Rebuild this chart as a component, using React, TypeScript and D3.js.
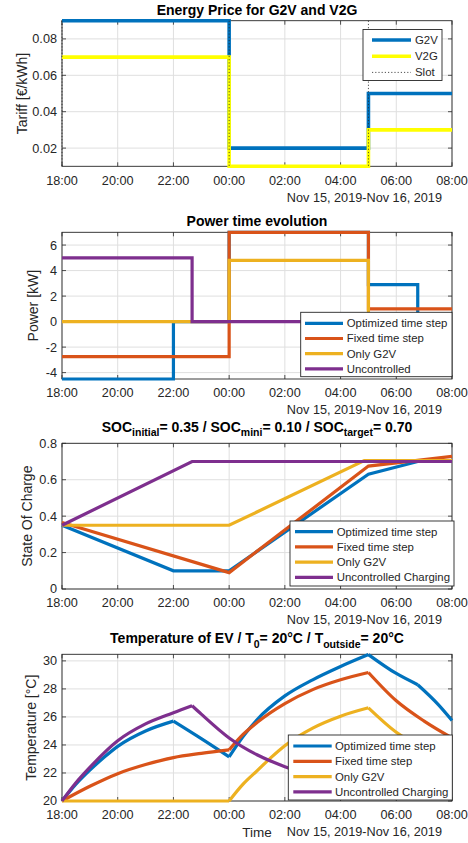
import React from "react";
import * as d3 from "d3";

// shared time axis (hours after 18:00 on Nov 15)
const xTicks = [0, 2, 4, 6, 8, 10, 12, 14];
const xTickLabels = ["18:00", "20:00", "22:00", "00:00", "02:00", "04:00", "06:00", "08:00"];
const dateLabel = "Nov 15, 2019-Nov 16, 2019";

// energy price
const tariffHours = [0, 6, 11, 14];
const g2vTariff = [0.09, 0.02, 0.05, 0.05];
const v2gTariff = [0.07, 0.01, 0.03, 0.03];
const slotHours = [0, 6, 11];
const tariffTicks = [0.02, 0.04, 0.06, 0.08];

// power [kW], step-after
const optPowerHours = [0, 4, 6, 11, 12.77, 14];
const optPower = [-4.5, 0, 7, 2.9, 0, 0];
const fixPowerHours = [0, 6, 11, 14];
const fixPower = [-2.75, 7, 1, 1];
const g2vPowerHours = [0, 6, 11, 14];
const g2vPower = [0, 4.8, 0, 0];
const uncPowerHours = [0, 4.67, 14];
const uncPower = [5, 0, 0];
const powerTicks = [-4, -2, 0, 2, 4, 6];

// state of charge
const optSocHours = [0, 4, 6, 11, 12.77, 14];
const optSoc = [0.35, 0.1, 0.1, 0.63, 0.7, 0.7];
const fixSocHours = [0, 6, 11, 14];
const fixSoc = [0.365, 0.09, 0.675, 0.728];
const g2vSocHours = [0, 6, 10.85, 14];
const g2vSoc = [0.35, 0.35, 0.705, 0.705];
const uncSocHours = [0, 4.67, 14];
const uncSoc = [0.35, 0.7, 0.7];
const socTicks = [0, 0.2, 0.4, 0.6, 0.8];

// temperature [°C], one sub-array per smooth segment
const optTempHours = [[0, 0.5, 1, 1.5, 2, 3, 4], [4, 5, 6], [6, 6.5, 7, 8, 9, 10, 11], [11, 12, 12.77], [12.77, 13.5, 14]];
const optTemp = [[20, 21.2, 22.2, 23.1, 23.9, 25.0, 25.7], [25.7, 24.45, 23.15], [23.15, 24.6, 25.8, 27.5, 28.65, 29.6, 30.45], [30.45, 29.1, 28.3], [28.3, 26.9, 25.75]];
const fixTempHours = [[0, 1, 2, 3, 4, 5, 6], [6, 6.5, 7, 8, 9, 10, 11], [11, 12, 13, 14]];
const fixTemp = [[20, 21.05, 21.95, 22.6, 23.1, 23.4, 23.65], [23.65, 24.75, 25.6, 26.95, 27.95, 28.65, 29.17], [29.17, 27.15, 25.7, 24.5]];
const g2vTempHours = [[0, 6], [6, 6.5, 7, 7.5, 8, 9, 10, 11], [11, 12, 13, 14]];
const g2vTemp = [[20, 20], [20, 21.2, 22.15, 23.1, 23.95, 25.2, 26.05, 26.65], [26.65, 24.9, 23.65, 22.8]];
const uncTempHours = [[0, 0.5, 1, 2, 3, 4, 4.67], [4.67, 5, 6, 7, 8, 9, 10, 11, 12, 13, 14]];
const uncTemp = [[20, 21.3, 22.4, 24.3, 25.5, 26.3, 26.8], [26.8, 26.2, 24.5, 23.3, 22.45, 21.8, 21.35, 21.0, 20.75, 20.55, 20.4]];
const tempTicks = [20, 22, 24, 26, 28, 30];

const BLUE = "#0072BD";
const ORANGE = "#D95319";
const GOLD = "#EDB120";
const PURPLE = "#7E2F8E";
const AXIS = "#262626";
const GRID = "#dfdfdf";
const FONT = "'Liberation Sans', Arial, Helvetica, sans-serif";

const X0 = 62;
const X1 = 452;

type Curve = "step" | "linear" | "smooth";

type Series = {
  name: string;
  color: string;
  width: number;
  dash?: string;
  curve?: Curve;
  segments: [number, number][][];
};

type Legend = { x: number; y: number; w: number; h: number; row0: number; dy: number; l1: number; l2: number; tx: number; items: Series[] };

type TitlePart = { t: string; sub?: boolean };

const seg = (h: number[], v: number[]) => [d3.zip(h, v) as [number, number][]];
const segs = (h: number[][], v: number[][]) => h.map((hh, i) => d3.zip(hh, v[i]) as [number, number][]);

const curves = { step: d3.curveStepAfter, linear: d3.curveLinear, smooth: d3.curveMonotoneX };

function TitleText({ parts }: { parts: TitlePart[] }) {
  // subscripts shift down, the following normal part shifts back up
  let shifted = false;
  return (
    <>
      {parts.map((p, i) => {
        let dy = 0;
        if (p.sub && !shifted) {
          dy = 4.5;
          shifted = true;
        } else if (!p.sub && shifted) {
          dy = -4.5;
          shifted = false;
        }
        return (
          <tspan key={i} dy={dy} fontSize={p.sub ? 10.5 : 14}>
            {p.t}
          </tspan>
        );
      })}
    </>
  );
}

function Panel(props: {
  top: number;
  bottom: number;
  yDomain: [number, number];
  yTicks: number[];
  yFmt: (v: number) => string;
  title: TitlePart[];
  titleY: number;
  yLabel: string;
  yLabelX: number;
  series: Series[];
  vlines?: number[];
  legend: Legend;
  xLabel?: string;
}) {
  const { top, bottom, yDomain, yTicks, yFmt, title, titleY, yLabel, yLabelX, series, vlines, legend, xLabel } = props;
  const x = d3.scaleLinear().domain([0, 14]).range([X0, X1]);
  const y = d3.scaleLinear().domain(yDomain).range([bottom, top]);
  const tl = 4;

  return (
    <g>
      <rect x={X0} y={top} width={X1 - X0} height={bottom - top} fill="#fff" />
      {xTicks.map((t) => (
        <line key={"gx" + t} x1={x(t)} x2={x(t)} y1={top} y2={bottom} stroke={GRID} strokeWidth={1} />
      ))}
      {yTicks.map((v) => (
        <line key={"gy" + v} x1={X0} x2={X1} y1={y(v)} y2={y(v)} stroke={GRID} strokeWidth={1} />
      ))}
      <rect x={X0} y={top} width={X1 - X0} height={bottom - top} fill="none" stroke={AXIS} strokeWidth={0.9} />
      {xTicks.map((t) => (
        <g key={"tx" + t}>
          <line x1={x(t)} x2={x(t)} y1={bottom} y2={bottom - tl} stroke={AXIS} strokeWidth={0.8} />
          <line x1={x(t)} x2={x(t)} y1={top} y2={top + tl} stroke={AXIS} strokeWidth={0.8} />
        </g>
      ))}
      {yTicks.map((v) => (
        <g key={"ty" + v}>
          <line x1={X0} x2={X0 + tl} y1={y(v)} y2={y(v)} stroke={AXIS} strokeWidth={0.8} />
          <line x1={X1} x2={X1 - tl} y1={y(v)} y2={y(v)} stroke={AXIS} strokeWidth={0.8} />
        </g>
      ))}
      {series.map((s) => {
        const gen = d3
          .line<[number, number]>()
          .x((d) => x(d[0]))
          .y((d) => y(d[1]))
          .curve(curves[s.curve || "linear"]);
        return s.segments.map((pts, i) => (
          <path key={s.name + i} d={gen(pts) || ""} fill="none" stroke={s.color} strokeWidth={s.width} strokeDasharray={s.dash} strokeLinejoin="miter" />
        ));
      })}
      {(vlines || []).map((h) => (
        <line key={"v" + h} x1={x(h)} x2={x(h)} y1={top} y2={bottom} stroke={AXIS} strokeWidth={0.8} strokeDasharray="1.2,2" />
      ))}
      {xTicks.map((t, i) => (
        <text key={"lx" + t} x={x(t)} y={bottom + 14} dy="0.35em" textAnchor="middle" fontSize={12.7} fill={AXIS}>
          {xTickLabels[i]}
        </text>
      ))}
      {yTicks.map((v) => (
        <text key={"ly" + v} x={X0 - 5} y={y(v)} dy="0.35em" textAnchor="end" fontSize={12.7} fill={AXIS}>
          {yFmt(v)}
        </text>
      ))}
      <text x={442} y={bottom + 31} dy="0.35em" textAnchor="end" fontSize={12.7} fill={AXIS}>
        {dateLabel}
      </text>
      {xLabel && (
        <text x={(X0 + X1) / 2} y={bottom + 31} dy="0.35em" textAnchor="middle" fontSize={13.5} fill={AXIS}>
          {xLabel}
        </text>
      )}
      <text transform={`translate(${yLabelX},${(top + bottom) / 2}) rotate(-90)`} dy="0.35em" textAnchor="middle" fontSize={14} fill={AXIS}>
        {yLabel}
      </text>
      <text x={(X0 + X1) / 2} y={titleY + 5} textAnchor="middle" fontSize={14} fontWeight="bold" fill="#000">
        <TitleText parts={title} />
      </text>
      <g>
        <rect x={legend.x} y={legend.y} width={legend.w} height={legend.h} fill="#fff" stroke={AXIS} strokeWidth={0.9} />
        {legend.items.map((s, i) => {
          const ry = legend.row0 + i * legend.dy;
          return (
            <g key={"lg" + s.name}>
              <line x1={legend.l1} x2={legend.l2} y1={ry} y2={ry} stroke={s.color} strokeWidth={s.dash ? 0.8 : s.width} strokeDasharray={s.dash} />
              <text x={legend.tx} y={ry} dy="0.35em" fontSize={11.4} fill={AXIS}>
                {s.name}
              </text>
            </g>
          );
        })}
      </g>
    </g>
  );
}

export default function App() {
  const tariffSeries: Series[] = [
    { name: "G2V", color: BLUE, width: 3.6, curve: "step", segments: seg(tariffHours, g2vTariff) },
    { name: "V2G", color: "#FFFF00", width: 3.6, curve: "step", segments: seg(tariffHours, v2gTariff) },
  ];
  const slotItem: Series = { name: "Slot", color: AXIS, width: 0.8, dash: "1.2,2", segments: [] };

  const powerSeries: Series[] = [
    { name: "Optimized time step", color: BLUE, width: 3.2, curve: "step", segments: seg(optPowerHours, optPower) },
    { name: "Fixed time step", color: ORANGE, width: 3.2, curve: "step", segments: seg(fixPowerHours, fixPower) },
    { name: "Only G2V", color: GOLD, width: 3.2, curve: "step", segments: seg(g2vPowerHours, g2vPower) },
    { name: "Uncontrolled", color: PURPLE, width: 3.2, curve: "step", segments: seg(uncPowerHours, uncPower) },
  ];

  const socSeries: Series[] = [
    { name: "Optimized time step", color: BLUE, width: 3.2, curve: "linear", segments: seg(optSocHours, optSoc) },
    { name: "Fixed time step", color: ORANGE, width: 3.2, curve: "linear", segments: seg(fixSocHours, fixSoc) },
    { name: "Only G2V", color: GOLD, width: 3.2, curve: "linear", segments: seg(g2vSocHours, g2vSoc) },
    { name: "Uncontrolled Charging", color: PURPLE, width: 3.2, curve: "linear", segments: seg(uncSocHours, uncSoc) },
  ];

  const tempSeries: Series[] = [
    { name: "Optimized time step", color: BLUE, width: 3.2, curve: "smooth", segments: segs(optTempHours, optTemp) },
    { name: "Fixed time step", color: ORANGE, width: 3.2, curve: "smooth", segments: segs(fixTempHours, fixTemp) },
    { name: "Only G2V", color: GOLD, width: 3.2, curve: "smooth", segments: segs(g2vTempHours, g2vTemp) },
    { name: "Uncontrolled Charging", color: PURPLE, width: 3.2, curve: "smooth", segments: segs(uncTempHours, uncTemp) },
  ];

  return (
    <svg width={468} height={843} style={{ position: "absolute", left: 0, top: 0, background: "#fff", fontFamily: FONT }}>
      <rect width={468} height={843} fill="#fff" />
      <Panel
        top={20.7}
        bottom={166.3}
        yDomain={[0.01, 0.09]}
        yTicks={tariffTicks}
        yFmt={d3.format(".2f")}
        title={[{ t: "Energy Price for G2V and V2G" }]}
        titleY={10}
        yLabel="Tariff [€/kWh]"
        yLabelX={21.7}
        series={tariffSeries}
        vlines={slotHours}
        legend={{ x: 363, y: 29.5, w: 79, h: 51, row0: 40, dy: 16.2, l1: 372, l2: 411, tx: 415, items: [...tariffSeries, slotItem] }}
      />
      <Panel
        top={232.3}
        bottom={379}
        yDomain={[-4.5, 7]}
        yTicks={powerTicks}
        yFmt={(v) => String(v)}
        title={[{ t: "Power time evolution" }]}
        titleY={220.7}
        yLabel="Power [kW]"
        yLabelX={33}
        series={powerSeries}
        legend={{ x: 300.7, y: 312.3, w: 151.3, h: 64.4, row0: 323.3, dy: 15.2, l1: 305, l2: 343, tx: 346.7, items: powerSeries }}
      />
      <Panel
        top={443.3}
        bottom={589}
        yDomain={[0, 0.8]}
        yTicks={socTicks}
        yFmt={(v) => (v === 0 ? "0" : d3.format(".1f")(v))}
        title={[
          { t: "SOC" },
          { t: "initial", sub: true },
          { t: "= 0.35 / SOC" },
          { t: "mini", sub: true },
          { t: "= 0.10 / SOC" },
          { t: "target", sub: true },
          { t: "= 0.70" },
        ]}
        titleY={426.7}
        yLabel="State Of Charge"
        yLabelX={27}
        series={socSeries}
        legend={{ x: 290, y: 521, w: 164, h: 65, row0: 531.7, dy: 15.2, l1: 295, l2: 333, tx: 336.7, items: socSeries }}
      />
      <Panel
        top={654.3}
        bottom={801}
        yDomain={[20, 30.47]}
        yTicks={tempTicks}
        yFmt={(v) => String(v)}
        title={[
          { t: "Temperature of EV / T" },
          { t: "0", sub: true },
          { t: "= 20°C / T" },
          { t: "outside", sub: true },
          { t: "= 20°C" },
        ]}
        titleY={638.3}
        yLabel="Temperature [°C]"
        yLabelX={30.7}
        series={tempSeries}
        xLabel="Time"
        legend={{ x: 288.3, y: 735, w: 164, h: 65, row0: 746, dy: 15.3, l1: 293.3, l2: 331.7, tx: 335, items: tempSeries }}
      />
    </svg>
  );
}
